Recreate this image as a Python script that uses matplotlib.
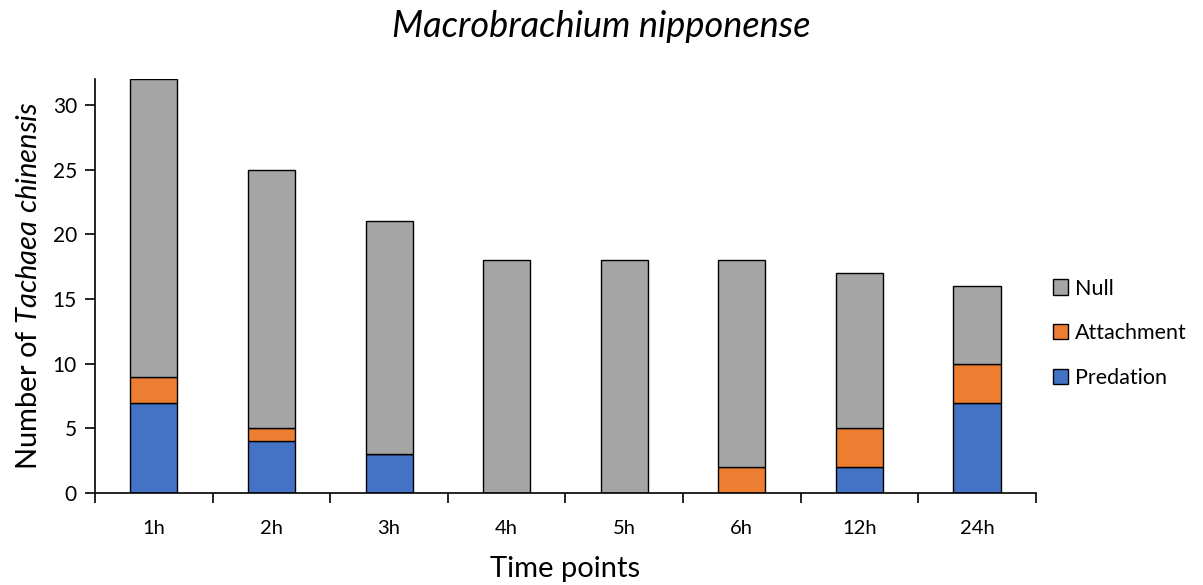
import matplotlib
matplotlib.use("Agg")
import matplotlib.pyplot as plt
import numpy as np

# Counts per time point
time_points = ["1h", "2h", "3h", "4h", "5h", "6h", "12h", "24h"]
predation = [7, 4, 3, 0, 0, 0, 2, 7]
attachment = [2, 1, 0, 0, 0, 2, 3, 3]
null = [23, 20, 18, 18, 18, 16, 12, 6]

series_names = ["Predation", "Attachment", "Null"]
series_colors = ["#4472C4", "#ED7D31", "#A5A5A5"]

plt.rcParams["font.family"] = ["Lato", "DejaVu Sans"]
plt.rcParams["mathtext.fontset"] = "custom"
plt.rcParams["mathtext.rm"] = "Lato"
plt.rcParams["mathtext.it"] = "Lato:italic"

fig = plt.figure(figsize=(12.03, 5.85), dpi=100)
ax = fig.add_axes([0.079, 0.157, 0.782, 0.708])

x = np.arange(len(time_points))
bottom = np.zeros(len(time_points))
handles = []
for name, vals, col in zip(series_names, [predation, attachment, null], series_colors):
    vals = np.array(vals, dtype=float)
    b = ax.bar(x, vals, width=0.4, bottom=bottom, color=col,
               edgecolor="black", linewidth=1.0, label=name)
    handles.append(b)
    bottom += vals

ax.set_xlim(-0.5, len(time_points) - 0.5)
ax.set_ylim(0, 32)
ax.set_yticks(np.arange(0, 31, 5))
ax.set_xticks(x)
ax.set_xticklabels(time_points)
ax.set_xticks(np.arange(-0.5, len(time_points), 1), minor=True)
ax.tick_params(axis="x", which="major", length=0, pad=19, labelsize=14.5)
ax.tick_params(axis="x", which="minor", length=7, width=1.2, direction="out")
ax.tick_params(axis="y", length=7, width=1.2, direction="out", labelsize=15, pad=6)

for s in ["top", "right"]:
    ax.spines[s].set_visible(False)
for s in ["left", "bottom"]:
    ax.spines[s].set_linewidth(1.2)

ax.set_xlabel("Time points", fontsize=21, labelpad=14)
ax.set_ylabel(r"Number of $\mathit{Tachaea\ chinensis}$", fontsize=21, labelpad=8)
fig.text(0.5, 0.955, "Macrobrachium nipponense", fontsize=26, style="italic",
         ha="center", va="center")

leg = ax.legend(handles[::-1], series_names[::-1], loc="center left",
                bbox_to_anchor=(1.005, 0.386), frameon=False, fontsize=15.5,
                handlelength=0.7, handleheight=0.7, handletextpad=0.3,
                labelspacing=1.15, borderaxespad=0.2)

fig.savefig("out.png", dpi=100)
